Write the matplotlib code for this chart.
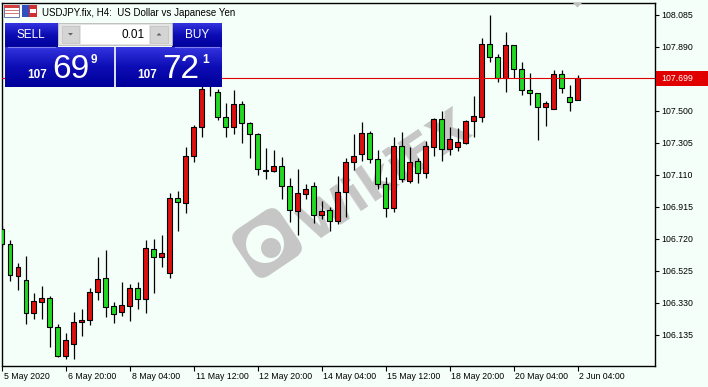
import numpy as np
import matplotlib
matplotlib.use("Agg")
import matplotlib.pyplot as plt
from matplotlib.patches import Rectangle, FancyBboxPatch, Polygon, Circle
from matplotlib.colors import LinearSegmentedColormap
import matplotlib.transforms as mtransforms

plt.rcParams['font.family'] = ['Liberation Sans', 'DejaVu Sans']

# USDJPY H4 candles (open, high, low, close)
opens = [106.777, 106.688, 106.495, 106.467, 106.265, 106.336, 106.357, 106.180, 106.003, 106.077,
         106.211, 106.223, 106.393, 106.479, 106.308, 106.272, 106.312, 106.418, 106.351, 106.655,
         106.607, 106.509, 106.966, 106.939, 107.222, 107.399, 107.663, 107.612, 107.464, 107.399,
         107.539, 107.425, 107.358, 107.137, 107.134, 107.165, 107.043, 106.891, 106.992, 107.041,
         106.866, 106.893, 106.830, 107.003, 107.186, 107.238, 107.364, 107.208, 107.052, 106.909,
         107.285, 107.074, 107.194, 107.122, 107.281, 107.449, 107.265, 107.277, 107.306, 107.439,
         107.464, 107.905, 107.825, 107.697, 107.900, 107.752, 107.624, 107.606, 107.524, 107.512,
         107.722, 107.582, 107.563]
highs = [106.797, 106.712, 106.574, 106.615, 106.387, 106.432, 106.371, 106.200, 106.147, 106.273,
         106.290, 106.420, 106.610, 106.651, 106.334, 106.456, 106.444, 106.456, 106.712, 106.716,
         106.743, 106.997, 107.011, 107.277, 107.413, 107.663, 107.724, 107.632, 107.545, 107.626,
         107.559, 107.433, 107.366, 107.271, 107.261, 107.216, 107.087, 107.143, 107.053, 107.067,
         106.952, 106.915, 107.102, 107.210, 107.358, 107.431, 107.376, 107.261, 107.094, 107.338,
         107.372, 107.281, 107.210, 107.315, 107.455, 107.498, 107.401, 107.395, 107.443, 107.588,
         107.941, 108.083, 107.846, 107.980, 107.902, 107.797, 107.732, 107.610, 107.559, 107.748,
         107.748, 107.657, 107.718]
lows = [106.669, 106.464, 106.407, 106.200, 106.233, 106.233, 106.058, 105.999, 105.985, 105.985,
        106.127, 106.196, 106.347, 106.245, 106.208, 106.251, 106.217, 106.293, 106.265, 106.387,
        106.549, 106.479, 106.769, 106.878, 107.189, 107.342, 107.590, 107.443, 107.342, 107.358,
        107.301, 107.210, 107.108, 107.082, 107.125, 106.960, 106.822, 106.741, 106.960, 106.814,
        106.838, 106.769, 106.810, 106.850, 107.139, 107.195, 107.180, 107.021, 106.850, 106.885,
        107.067, 107.061, 107.061, 107.090, 107.224, 107.195, 107.230, 107.254, 107.297, 107.342,
        107.433, 107.799, 107.677, 107.616, 107.701, 107.598, 107.537, 107.322, 107.407, 107.509,
        107.610, 107.500, 107.563]
closes = [106.686, 106.497, 106.546, 106.265, 106.339, 106.357, 106.180, 106.003, 106.101, 106.211,
          106.225, 106.395, 106.473, 106.306, 106.259, 106.314, 106.418, 106.351, 106.662, 106.607,
          106.631, 106.966, 106.942, 107.222, 107.399, 107.632, 107.687, 107.464, 107.399, 107.539,
          107.423, 107.356, 107.143, 107.133, 107.165, 107.043, 106.893, 106.997, 107.023, 106.866,
          106.891, 106.830, 107.003, 107.186, 107.222, 107.364, 107.208, 107.052, 106.909, 107.285,
          107.086, 107.187, 107.122, 107.285, 107.449, 107.265, 107.326, 107.307, 107.439, 107.466,
          107.905, 107.825, 107.697, 107.900, 107.752, 107.624, 107.606, 107.524, 107.545, 107.722,
          107.640, 107.555, 107.699]

x_labels = ["5 May 2020", "6 May 20:00", "8 May 04:00", "11 May 12:00", "12 May 20:00",
            "14 May 04:00", "15 May 12:00", "18 May 20:00", "20 May 04:00", "2 Jun 04:00"]
y_ticks = [106.135, 106.330, 106.525, 106.720, 106.915, 107.110, 107.305, 107.500, 107.695,
           107.890, 108.085]
last_price = 107.699

bg = '#f5fffa'
up_col = '#dd1010'
down_col = '#22d822'

fig = plt.figure(figsize=(7.08, 3.87), dpi=100, facecolor=bg)
W, H = 708, 387

# watermark layer, under the chart
wm = fig.add_axes([0, 0, 1, 1], zorder=0)
wm.set_xlim(0, W)
wm.set_ylim(H, 0)
wm.axis('off')
tr = mtransforms.Affine2D().rotate_deg_around(267, 243, -34) + wm.transData
wm.add_patch(FancyBboxPatch((239, 215), 56, 56, boxstyle='round,pad=0,rounding_size=12',
                            fc='#c6c6c6', ec='none', transform=tr))
wm.add_patch(Circle((265, 244), 19, fc=bg, ec='none'))
wm.add_patch(Circle((271, 248), 10, fc='#c6c6c6', ec='none'))
wm.text(386, 177, 'WikiFX', rotation=34, fontsize=36, fontweight='bold', color='#c6c6c6',
        ha='center', va='center', family='DejaVu Sans')

ax = fig.add_axes([2 / W, 21 / H, 653 / W, 363.3 / H], zorder=1)
ax.set_facecolor('none')

n = len(opens)
idx = np.arange(n)
o = np.array(opens)
c = np.array(closes)
cols = [up_col if cc >= oo else down_col for oo, cc in zip(o, c)]
ax.vlines(idx, lows, highs, color='black', lw=0.9, zorder=2)
ax.bar(idx, np.maximum(np.abs(c - o), 0.002), bottom=np.minimum(o, c), width=0.62,
       color=cols, edgecolor='black', linewidth=0.8, zorder=3)

ax.axhline(last_price, color='#e00000', lw=0.8, zorder=4)

ax.set_xlim(0.0625, 81.69)
ax.set_ylim(105.944, 108.158)
for s in ax.spines.values():
    s.set_color('black')
    s.set_linewidth(1)

ax.yaxis.tick_right()
ax.set_yticks(y_ticks)
ax.set_yticklabels(['%.3f' % v for v in y_ticks])
ax.tick_params(axis='y', direction='out', length=3, width=0.8, pad=1.5, labelsize=6.3)
ax.set_xticks(idx[::8])
ax.set_xticklabels(x_labels, ha='left')
ax.tick_params(axis='x', direction='out', length=3.8, width=0.8, pad=0.3, labelsize=6.3)
for lab in ax.get_xticklabels():
    lab.set_transform(lab.get_transform() + mtransforms.ScaledTranslation(1.2 / 72, 0, fig.dpi_scale_trans))

# overlay in pixel coords for panel, title, price label
ov = fig.add_axes([0, 0, 1, 1], zorder=10)
ov.set_xlim(0, W)
ov.set_ylim(H, 0)
ov.axis('off')
ov.patch.set_alpha(0)

# price label on right axis
ov.add_patch(Rectangle((656, 71), 52, 15, fc='#e00000', ec='none'))
ov.text(661, 78.8, '%.3f' % last_price, color='white', fontsize=6.3, va='center', ha='left')

# shift marker
ov.add_patch(Polygon([(573, 3), (582, 3), (577.5, 7.5)], closed=True, fc='#c0c0c0', ec='none'))

# title
ov.add_patch(Rectangle((4, 5), 15, 12, fc='white', ec='#5060a0', lw=0.6))
ov.add_patch(Rectangle((4, 5), 15, 3, fc='#d04040', ec='none'))
for yy in (10, 13):
    ov.plot([5, 18], [yy, yy], color='#d06060', lw=0.6)
ov.add_patch(Rectangle((22, 5), 7, 12, fc='#3050c0', ec='none'))
ov.add_patch(Rectangle((29, 5), 8, 12, fc='#d03030', ec='none'))
ov.add_patch(Rectangle((30, 9), 6, 4, fc='white', ec='none'))
ov.text(42, 16.5, 'USDJPY.fix, H4:  US Dollar vs Japanese Yen', fontsize=7, color='black',
        va='baseline', ha='left')

# trade panel
blue = LinearSegmentedColormap.from_list('bl', ['#3434e0', '#0c0cb4', '#00009a'])
grad = np.linspace(0, 1, 64).reshape(-1, 1)
for (x0, x1, y0, y1) in [(5, 58, 23, 47), (172, 222, 23, 47), (5, 114, 47, 87), (116, 222, 47, 87)]:
    ov.imshow(grad, cmap=blue, extent=(x0, x1, y1, y0), aspect='auto', zorder=5)
ov.add_patch(Rectangle((114, 47), 2, 40, fc='#d8d8f0', ec='none', zorder=6))
ov.plot([8, 55], [46.5, 46.5], color='#8080f0', lw=0.8, zorder=6)
ov.plot([175, 219], [46.5, 46.5], color='#8080f0', lw=0.8, zorder=6)
ov.add_patch(Rectangle((58, 23), 114, 22, fc='#e4e4e4', ec='#b8b8b8', lw=0.6, zorder=6))
ov.add_patch(Rectangle((62, 26), 17, 17, fc='#d4d4d4', ec='#c0c0c0', lw=0.5, zorder=7))
ov.add_patch(Rectangle((150, 26), 18, 17, fc='#d4d4d4', ec='#c0c0c0', lw=0.5, zorder=7))
ov.add_patch(Rectangle((81, 25), 68, 19, fc='white', ec='none', zorder=7))
ov.add_patch(Polygon([(68, 33), (73, 33), (70.5, 35.5)], closed=True, fc='#606060', zorder=8))
ov.add_patch(Polygon([(156.5, 35.5), (161.5, 35.5), (159, 33)], closed=True, fc='#606060', zorder=8))
ov.text(145, 35, '0.01', fontsize=8.5, color='black', ha='right', va='center', zorder=8)
ov.text(31, 35, 'SELL', fontsize=8.5, color='white', ha='center', va='center', zorder=8)
ov.text(197, 35, 'BUY', fontsize=8.5, color='white', ha='center', va='center', zorder=8)

ov.text(47, 78, '107', fontsize=8.5, fontweight='bold', color='white', ha='right', va='baseline', zorder=8)
ov.text(52, 77.5, '69', fontsize=24, color='white', ha='left', va='baseline', zorder=8)
ov.text(91, 63, '9', fontsize=8.5, fontweight='bold', color='white', ha='left', va='baseline', zorder=8)
ov.text(157, 78, '107', fontsize=8.5, fontweight='bold', color='white', ha='right', va='baseline', zorder=8)
ov.text(162, 77.5, '72', fontsize=24, color='white', ha='left', va='baseline', zorder=8)
ov.text(202, 63, '1', fontsize=8.5, fontweight='bold', color='white', ha='left', va='baseline', zorder=8)

fig.savefig('out.png', dpi=100, facecolor=bg)
